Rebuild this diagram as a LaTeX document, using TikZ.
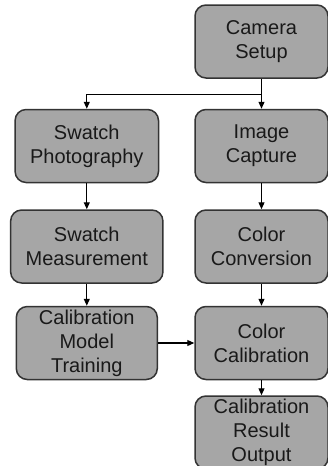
\documentclass[tikz,border=0pt]{standalone}
\usepackage{fontspec}
\setmainfont{Liberation Sans}
\usetikzlibrary{arrows.meta,positioning}

\begin{document}
\begin{tikzpicture}[
    every node/.style={font=\fontsize{20pt}{24pt}\selectfont, text=black!90},
    stagebox/.style={rectangle, rounded corners=11pt, draw=black!80, line width=1.5pt,
        fill={rgb,255:red,166;green,166;blue,166}, align=center, inner xsep=15pt, inner ysep=0pt,
        minimum width=#1, minimum height=73pt},
    stagebox/.default=141pt,
    flow/.style={-{Triangle[length=7pt,width=6pt]}, line width=1.1pt, black},
]
\useasboundingbox (0,0) rectangle (328pt,-466pt);

% Main column
\node[stagebox=133pt] (camera) at (261.5pt,-41.5pt) {Camera\\Setup};
\node[stagebox=133pt, below=30pt of camera] (capture) {Image\\Capture};
\node[stagebox=133pt, below=26pt of capture] (convert) {Color\\Conversion};
\node[stagebox=133pt, below=22pt of convert] (calib) {Color\\Calibration};
\node[stagebox=133pt, below=15pt of calib] (result) {Calibration\\Result\\Output};

% Swatch column
\node[stagebox, left=35pt of capture] (photo) {Swatch\\Photography};
\node[stagebox, below=26pt of photo] (measure) {Swatch\\Measurement};
\node[stagebox, below=22pt of measure] (train) {Calibration\\Model\\Training};

% Arrows
\coordinate (split) at ([yshift=-16pt]camera.south);
\draw[flow] (camera) -- (capture);
\draw[flow] (split) -| (photo.north);
\draw[flow] (photo) -- (measure);
\draw[flow] (measure) -- (train);
\draw[flow] (capture) -- (convert);
\draw[flow] (convert) -- (calib);
\draw[flow] (calib) -- (result);
\draw[flow] (train) -- (calib);

\end{tikzpicture}
\end{document}
